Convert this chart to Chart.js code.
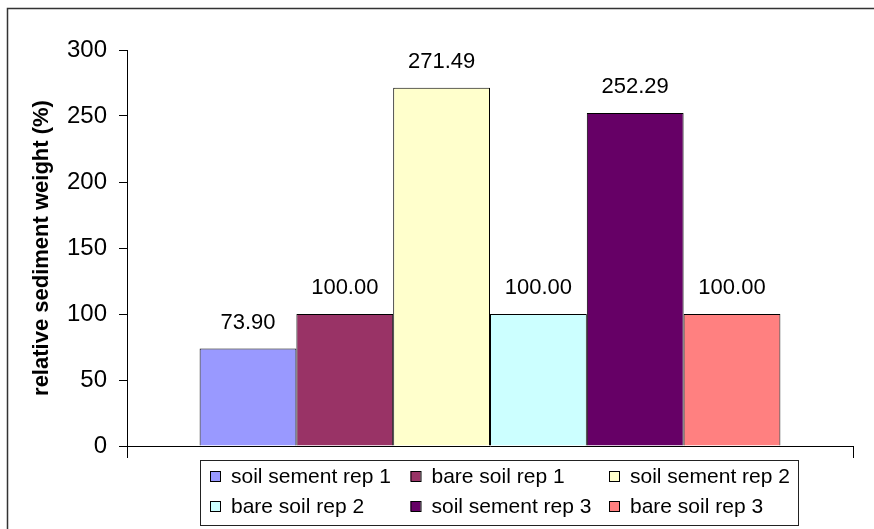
<!DOCTYPE html>
<html>
<head>
<meta charset="utf-8">
<style>
  html, body { margin: 0; padding: 0; background: #fff; overflow: hidden; }
  #wrap { width: 874px; height: 529px; position: relative; }
  #chart { display: block; }
</style>
<script src="https://cdn.jsdelivr.net/npm/chart.js@4/dist/chart.umd.min.js"></script>
</head>
<body>
<div id="wrap"><canvas id="chart"></canvas></div>
<script>
// Relative sediment weight, one bar per treatment/rep.
var categories   = [""];
var seriesLabels = ["soil sement rep 1", "bare soil rep 1", "soil sement rep 2",
                    "bare soil rep 2", "soil sement rep 3", "bare soil rep 3"];
var seriesValues = [73.90, 100.00, 271.49, 100.00, 252.29, 100.00];
var seriesColors = ["#9999ff", "#993366", "#ffffcc", "#ccffff", "#660066", "#ff8080"];
var yTicks       = [0, 50, 100, 150, 200, 250, 300];

var FONT = "'Liberation Sans', Arial, sans-serif";

// outer frame: only the top and left edges fall inside the picture
var framePlugin = {
  id: "frame",
  beforeDraw: function (chart) {
    var ctx = chart.ctx;
    ctx.save();
    ctx.fillStyle = "#fff";
    ctx.fillRect(0, 0, chart.width, chart.height);
    ctx.strokeStyle = "#333";
    ctx.lineWidth = 1.5;
    ctx.beginPath();
    ctx.moveTo(7.5, chart.height + 5);
    ctx.lineTo(7.5, 8.5);
    ctx.lineTo(chart.width + 5, 8.5);
    ctx.stroke();
    ctx.restore();
  }
};

// value labels above each bar
var valueLabels = {
  id: "valueLabels",
  afterDatasetsDraw: function (chart) {
    var ctx = chart.ctx;
    ctx.save();
    ctx.font = "22px " + FONT;
    ctx.fillStyle = "#000";
    ctx.textAlign = "center";
    ctx.textBaseline = "middle";
    chart.data.datasets.forEach(function (ds, i) {
      var bar = chart.getDatasetMeta(i).data[0];
      ctx.fillText(ds.data[0].toFixed(2), bar.x, bar.y - 26);
    });
    ctx.restore();
  }
};

// boxed 3-column legend like the Excel original
var boxLegend = {
  id: "boxLegend",
  afterDraw: function (chart) {
    var ctx = chart.ctx;
    var box = { x: 200.5, y: 460.5, w: 598, h: 65 };
    var colX = [210, 410.5, 609];
    var rowY = [476, 506];
    ctx.save();
    ctx.strokeStyle = "#222";
    ctx.lineWidth = 1;
    ctx.strokeRect(box.x, box.y, box.w, box.h);
    ctx.font = "21px " + FONT;
    ctx.textBaseline = "middle";
    ctx.textAlign = "left";
    chart.data.datasets.forEach(function (ds, i) {
      var x = colX[i % 3], y = rowY[Math.floor(i / 3)];
      ctx.fillStyle = ds.backgroundColor;
      ctx.fillRect(x, y - 5, 10, 10);
      ctx.strokeStyle = "#000";
      ctx.strokeRect(x + 0.5, y - 5 + 0.5, 10, 10);
      ctx.fillStyle = "#000";
      ctx.fillText(ds.label, x + 21, y + 1);
    });
    ctx.restore();
  }
};

new Chart(document.getElementById("chart"), {
  type: "bar",
  data: {
    labels: categories,
    datasets: seriesLabels.map(function (lab, i) {
      return {
        label: lab,
        data: [seriesValues[i]],
        backgroundColor: seriesColors[i],
        borderColor: "#000",
        borderWidth: 1
      };
    })
  },
  options: {
    responsive: true,
    maintainAspectRatio: false,
    animation: false,
    events: [],
    categoryPercentage: 0.8,
    barPercentage: 1.0,
    layout: { padding: { left: 7, top: 50, right: 21, bottom: 0 } },
    plugins: {
      legend: { display: false },
      tooltip: { enabled: false }
    },
    scales: {
      x: {
        offset: true,
        grid: { offset: true, drawOnChartArea: false, drawTicks: true, tickLength: 12, color: "#000", lineWidth: 1 },
        border: { display: true, color: "#000", width: 1 },
        ticks: { display: false },
        afterFit: function (s) { s.height = 83; }
      },
      y: {
        min: 0,
        max: 300,
        afterBuildTicks: function (s) { s.ticks = yTicks.map(function (v) { return { value: v }; }); },
        grid: { drawOnChartArea: false, drawTicks: true, tickLength: 8, color: "#000", lineWidth: 1 },
        border: { display: true, color: "#000", width: 1 },
        ticks: { color: "#000", padding: 12, font: { family: FONT, size: 24 } },
        title: {
          display: true,
          text: "relative sediment weight (%)",
          color: "#000",
          padding: { top: 22, bottom: 0 },
          font: { family: FONT, size: 22, weight: "bold" }
        },
        afterFit: function (s) { s.width = 120; }
      }
    }
  },
  plugins: [framePlugin, valueLabels, boxLegend]
});
</script>
</body>
</html>
